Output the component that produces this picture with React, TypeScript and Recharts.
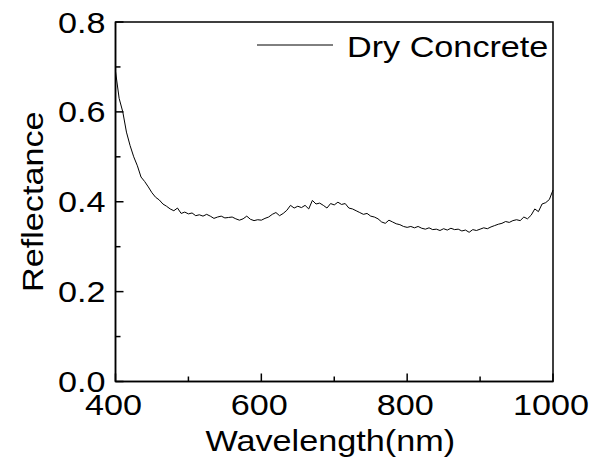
import React from 'react';
import { LineChart, Line, XAxis, YAxis, ReferenceArea } from 'recharts';

// wavelength (nm), 5 nm step
const wavelengths = [
  400, 405, 410, 415, 420, 425, 430, 435, 440, 445, 450, 455, 460, 465, 470, 475, 480, 485, 490, 495,
  500, 505, 510, 515, 520, 525, 530, 535, 540, 545, 550, 555, 560, 565, 570, 575, 580, 585, 590, 595,
  600, 605, 610, 615, 620, 625, 630, 635, 640, 645, 650, 655, 660, 665, 670, 675, 680, 685, 690, 695,
  700, 705, 710, 715, 720, 725, 730, 735, 740, 745, 750, 755, 760, 765, 770, 775, 780, 785, 790, 795,
  800, 805, 810, 815, 820, 825, 830, 835, 840, 845, 850, 855, 860, 865, 870, 875, 880, 885, 890, 895,
  900, 905, 910, 915, 920, 925, 930, 935, 940, 945, 950, 955, 960, 965, 970, 975, 980, 985, 990, 995,
  1000,
];

// reflectance
const reflectance = [
  0.69, 0.63, 0.6, 0.555, 0.525, 0.5, 0.48, 0.455, 0.445, 0.433, 0.42, 0.41, 0.404, 0.395, 0.39, 0.384, 0.38, 0.386, 0.374, 0.377,
  0.373, 0.375, 0.369, 0.371, 0.368, 0.372, 0.368, 0.363, 0.366, 0.368, 0.364, 0.365, 0.366, 0.362, 0.359, 0.362, 0.368, 0.361, 0.358, 0.36,
  0.359, 0.363, 0.366, 0.372, 0.376, 0.369, 0.374, 0.381, 0.392, 0.386, 0.39, 0.387, 0.392, 0.384, 0.403, 0.395, 0.397, 0.392, 0.386, 0.396,
  0.393, 0.399, 0.394, 0.396, 0.386, 0.384, 0.38, 0.376, 0.372, 0.374, 0.368, 0.366, 0.362, 0.355, 0.352, 0.359, 0.355, 0.351, 0.349, 0.345,
  0.343, 0.345, 0.342, 0.345, 0.341, 0.339, 0.342, 0.338, 0.339, 0.336, 0.34, 0.337, 0.341, 0.338, 0.339, 0.335, 0.337, 0.332, 0.338, 0.336,
  0.339, 0.342, 0.34, 0.344, 0.347, 0.35, 0.352, 0.356, 0.354, 0.358, 0.36, 0.358, 0.366, 0.362, 0.37, 0.384, 0.378, 0.395, 0.398, 0.405,
  0.426,
];

const seriesName = 'Dry Concrete';
const xTicks = [400, 500, 600, 700, 800, 900, 1000];
const yTicks = [0, 0.1, 0.2, 0.3, 0.4, 0.5, 0.6, 0.7, 0.8];

const FONT = '"Liberation Sans", Arial, sans-serif';
const FS = 30;
const SX = 1.14; // glyphs in the reference are a bit wider than Arial

const data = wavelengths.map((w, i) => ({ w, r: reflectance[i] }));

function StretchText({ x, y, rotate = 0, anchor = 'middle', children }: any) {
  return (
    <text
      transform={`translate(${x},${y}) rotate(${rotate}) scale(${SX},1)`}
      textAnchor={anchor}
      fontFamily={FONT}
      fontSize={FS}
      fill="#000"
    >
      {children}
    </text>
  );
}

const XTick = ({ x, y, payload }: any) => {
  const major = payload.value % 200 === 0;
  return (
    <g>
      <line x1={x} x2={x} y1={y} y2={y - (major ? 8 : 5)} stroke="#000" strokeWidth={1.5} />
      {major && <StretchText x={x - 2} y={y + 33.5}>{payload.value}</StretchText>}
    </g>
  );
};

const YTick = ({ x, y, payload }: any) => {
  const major = Math.round(payload.value * 10) % 2 === 0;
  return (
    <g>
      <line x1={x} x2={x + (major ? 8 : 5)} y1={y} y2={y} stroke="#000" strokeWidth={1.5} />
      {major && (
        <StretchText x={x - 10} y={y + 10.5} anchor="end">
          {payload.value.toFixed(1)}
        </StretchText>
      )}
    </g>
  );
};

export default function App() {
  return (
    <div style={{ position: 'absolute', left: 0, top: 0, width: 593, height: 460, background: '#fff' }}>
      <LineChart width={593} height={460} data={data} margin={{ top: 22, right: 40, bottom: 18.5, left: 0.5 }}>
        <XAxis
          dataKey="w"
          type="number"
          domain={[400, 1000]}
          ticks={xTicks}
          interval={0}
          height={60}
          tickSize={0}
          tickMargin={0}
          tickLine={false}
          axisLine={{ stroke: '#000', strokeWidth: 1.5 }}
          tick={<XTick />}
          label={(p: any) => {
            const vb = p.viewBox;
            return <StretchText x={vb.x + vb.width / 2 - 4} y={451}>Wavelength(nm)</StretchText>;
          }}
        />
        <YAxis
          type="number"
          domain={[0, 0.8]}
          ticks={yTicks}
          interval={0}
          width={115}
          tickSize={0}
          tickMargin={0}
          tickLine={false}
          axisLine={{ stroke: '#000', strokeWidth: 1.5 }}
          tick={<YTick />}
          label={(p: any) => {
            const vb = p.viewBox;
            return (
              <StretchText x={43} y={vb.y + vb.height / 2} rotate={-90}>
                Reflectance
              </StretchText>
            );
          }}
        />
        <ReferenceArea x1={400} x2={1000} y1={0} y2={0.8} fill="none" stroke="#000" strokeWidth={1.5} ifOverflow="visible" />
        <Line
          type="linear"
          dataKey="r"
          name={seriesName}
          stroke="#000"
          strokeWidth={1}
          dot={false}
          activeDot={false}
          isAnimationActive={false}
        />
      </LineChart>
      {/* legend drawn as an overlay so it takes no room from the plot */}
      <svg width={310} height={50} style={{ position: 'absolute', left: 250, top: 20 }}>
        <line x1={7} x2={83} y1={25} y2={25} stroke="#000" strokeWidth={1} />
        <StretchText x={97} y={36.5} anchor="start">{seriesName}</StretchText>
      </svg>
    </div>
  );
}
